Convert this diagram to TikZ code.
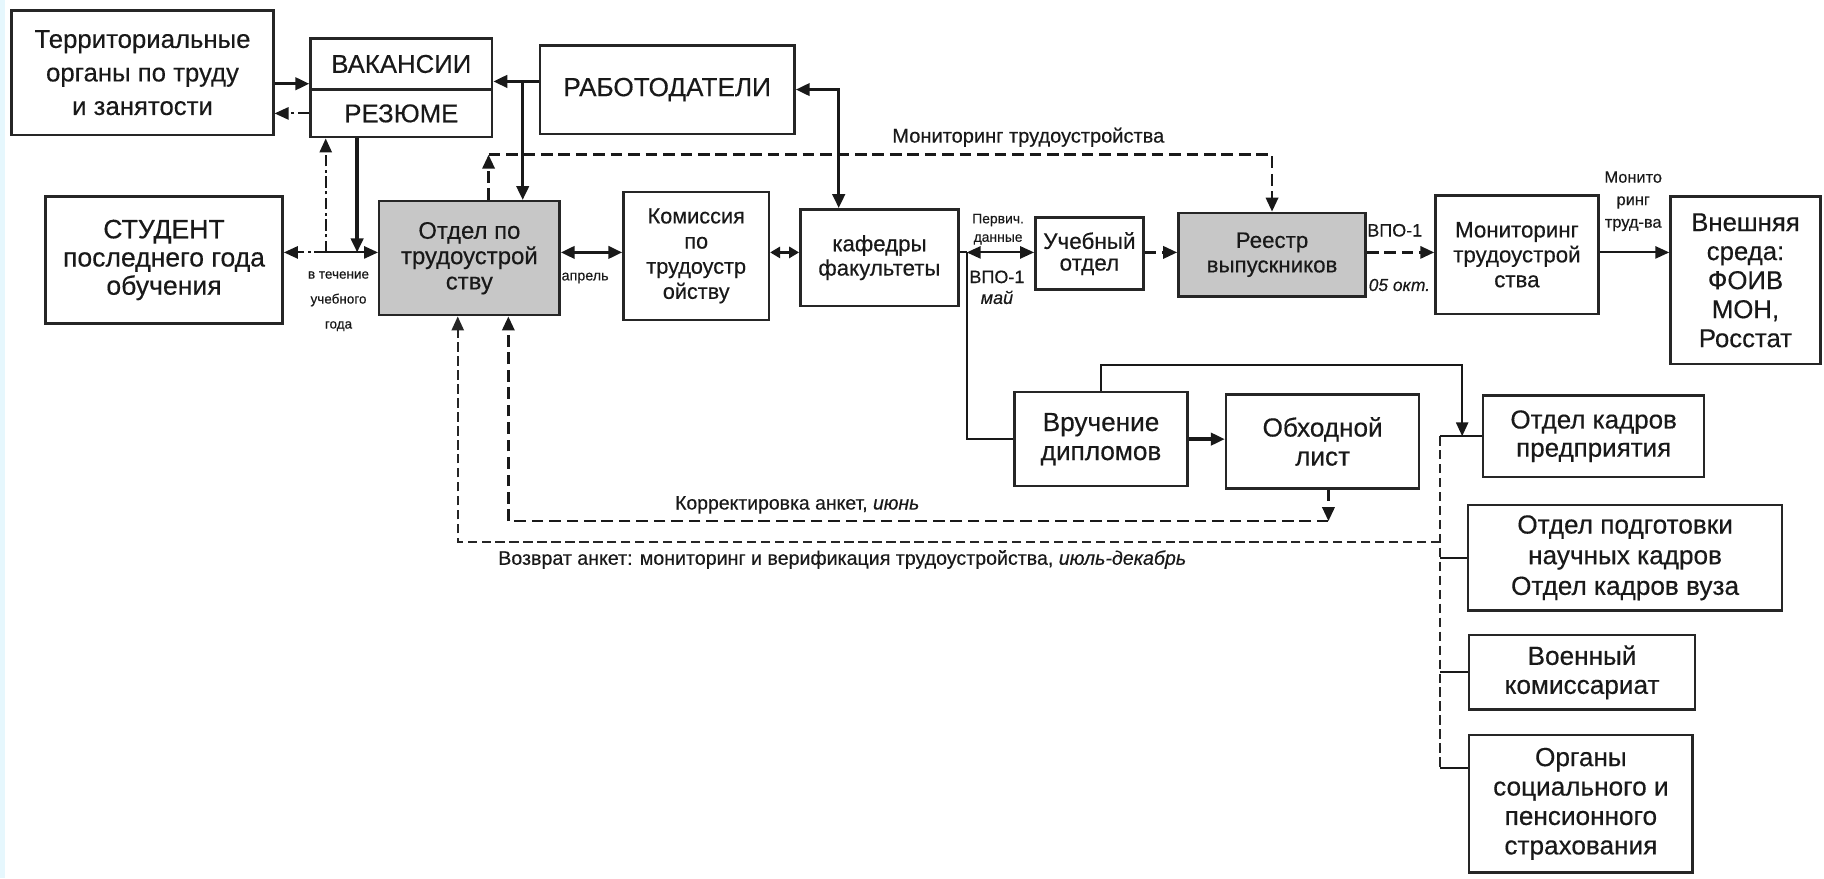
\documentclass[tikz,border=0pt]{standalone}
\usepackage{fontspec}
\setmainfont{Liberation Sans}
\usetikzlibrary{arrows.meta,calc}

\begin{document}
\begin{tikzpicture}[x=0.2mm,y=-0.2mm,
  box/.style={draw=black!85, line width=1.2pt, align=center, inner sep=0pt, text=black!90},
  grayfill/.style={fill=black!22},
  fs/.style 2 args={font=\fontsize{#1}{#2}\selectfont\addfontfeature{FakeBold=0.35}},
  lbl/.style={inner sep=0pt, align=center, text=black!90},
  conn/.style={line width=1.6pt, draw=black!90},
  med/.style={line width=1.0pt, draw=black!90},
  dsh/.style={line width=1.3pt, draw=black!90, dash pattern=on 2mm off 1mm},
  dshthin/.style={line width=0.9pt, draw=black!85, dash pattern=on 1.6mm off 0.8mm},
  ddot/.style={line width=1pt, draw=black!90, dash pattern=on 2mm off 0.6mm on 0.5mm off 0.6mm},
  ah/.style={-{Triangle[length=2.4mm,width=2.1mm]}},
  hh/.style={{Triangle[length=2.4mm,width=2.1mm]}-{Triangle[length=2.4mm,width=2.1mm]}},
  hhs/.style={{Triangle[length=1.7mm,width=1.9mm]}-{Triangle[length=1.7mm,width=1.9mm]}}
]
\useasboundingbox (0,0) rectangle (1568,755);
\fill[white] (0,0) rectangle (1568,755);
\fill[cyan!10] (0,0) rectangle (4,755);

% ---------- boxes ----------
\node[box, fs={12.6}{16.4}, minimum width=45mm, minimum height=21.4mm] (terr) at (122.5,62.5) {Территориальные\\органы по труду\\и занятости};
\node[box, fs={12.6}{15}, minimum width=31.2mm, minimum height=8.8mm] (vak) at (345,55) {ВАКАНСИИ};
\node[box, fs={12.6}{15}, minimum width=31.2mm, minimum height=8.2mm] (rez) at (345,97.5) {РЕЗЮМЕ};
\node[box, fs={12.8}{15}, minimum width=43.8mm, minimum height=15.2mm] (rab) at (573.5,77) {РАБОТОДАТЕЛИ};
\node[box, fs={13}{13.8}, minimum width=40.8mm, minimum height=21.8mm] (stud) at (141,223.5) {СТУДЕНТ\\последнего года\\обучения};
\node[box, grayfill, fs={11.7}{12.4}, minimum width=31mm, minimum height=19.6mm] (otd) at (403.5,222) {Отдел по\\трудоустрой\\ству};
\node[box, fs={10.6}{12.3}, minimum width=25mm, minimum height=22mm] (kom) at (598.5,220) {Комиссия\\по\\трудоустр\\ойству};
\node[box, fs={10.9}{11.9}, minimum width=27.2mm, minimum height=16.6mm] (kaf) at (756,221.5) {кафедры\\факультеты};
\node[box, fs={11}{10.6}, minimum width=18.6mm, minimum height=12.4mm] (ucheb) at (936.5,218) {Учебный\\отдел};
\node[box, grayfill, fs={10.9}{12}, minimum width=32.2mm, minimum height=14.4mm] (reestr) at (1093.5,219) {Реестр\\выпускников};
\node[box, fs={10.9}{12.2}, minimum width=28mm, minimum height=20.4mm] (mon) at (1304,219) {Мониторинг\\трудоустрой\\ства};
\node[box, fs={12.6}{14.2}, minimum width=25.8mm, minimum height=28.8mm] (vnesh) at (1500.5,241) {Внешняя\\среда:\\ФОИВ\\МОН,\\Росстат};
\node[box, fs={12.8}{14.2}, minimum width=29.8mm, minimum height=16.2mm] (vruch) at (946.5,377.5) {Вручение\\дипломов};
\node[box, fs={12.8}{14.2}, minimum width=33.2mm, minimum height=16.2mm] (obh) at (1137,379.5) {Обходной\\лист};
\node[box, fs={12.7}{13.8}, minimum width=38mm, minimum height=14mm] (okp) at (1370,375) {Отдел кадров\\предприятия};
\node[box, fs={12.8}{15}, minimum width=54mm, minimum height=18.2mm] (onk) at (1397,479.5) {Отдел подготовки\\научных кадров\\Отдел кадров вуза};
\node[box, fs={12.8}{14.2}, minimum width=38.8mm, minimum height=12.8mm] (vk) at (1360,578) {Военный\\комиссариат};
\node[box, fs={12.8}{14.4}, minimum width=38.4mm, minimum height=23.6mm] (org) at (1359,691) {Органы\\социального и\\пенсионного\\страхования};

% ---------- labels ----------
\node[lbl, fs={9.8}{11}] (tmon) at (884,118) {Мониторинг трудоустройства};
\node[lbl, fs={6.6}{12.2}] (tyear) at (291,259) {в течение\\учебного\\года};
\node[lbl, fs={7}{8}] (tapr) at (503,239) {апрель};
\node[lbl, fs={6.8}{9}] (tperv) at (858,197) {Первич.\\данные};
\node[lbl, fs={8.8}{10.2}] (tvpo) at (857,247) {ВПО-1\\\textit{май}};
\node[lbl, fs={8.8}{10}] (tvpob) at (1199,198) {ВПО-1};
\node[lbl, fs={8.5}{10}] (tokt) at (1203,245) {\textit{05 окт.}};
\node[lbl, fs={8}{11}] (tmt) at (1404,173) {Монито\\ринг\\труд-ва};
\node[lbl, fs={9.5}{11}, anchor=west] (tkor) at (580,434) {Корректировка анкет, \textit{июнь}};
\node[lbl, fs={9.6}{11}, anchor=west] (tvoz) at (428,481) {Возврат анкет: мониторинг и верификация трудоустройства, \textit{июль-декабрь}};

% ---------- top-left connectors ----------
\coordinate (a1) at ([yshift=-3.4mm]vak.west);
\draw[conn, ah] (a1 -| terr.east) -- (a1);
\draw[ddot, ah] (rez.west) -- (rez.west -| terr.east);
\coordinate (r1) at ([yshift=1.4mm]rab.west);
\draw[conn, ah] (r1) -- (r1 -| vak.east);
\coordinate (j1) at ($(r1 -| vak.east)!0.65!(r1)$);
\draw[conn, ah] (j1) -- (j1 |- otd.north);
\coordinate (k1) at ([xshift=-7mm]kaf.north);
\draw[conn, hh] (rab.east) -| (k1);

% ---------- monitoring (dashed) ----------
\coordinate (mline) at (0,133);
\coordinate (m0) at ([xshift=3.3mm]otd.north);
\draw[dsh, ah] (m0) -- (m0 |- mline);
\draw[dsh, ah] (m0 |- mline) -| (reestr.north);

% ---------- main row ----------
\coordinate (row) at (0,217);
\coordinate (jd) at (280,217);
\coordinate (js) at (307,217);
\draw[ddot, ah] (jd) -- (jd -| stud.east);
\draw[ddot, ah] (jd) -- (jd |- rez.south);
\draw[conn, ah] (js |- rez.south) -- (js);
\draw[med, ah] (jd) -- (jd -| otd.west);
\draw[conn, hh] (otd.east |- row) -- (kom.west |- row);
\draw[conn, hhs] (kom.east |- row) -- (kaf.west |- row);
\coordinate (jk0) at (kaf.east |- row);
\coordinate (jk) at ([xshift=1.2mm]jk0);
\draw[med] (jk0) -- (jk);
\draw[med, hh] (jk) -- (ucheb.west |- row);
\draw[med] (jk) |- (vruch.west);
\draw[dsh, ah] (ucheb.east |- row) -- (reestr.west |- row);
\draw[dsh, ah] (reestr.east |- row) -- (mon.west |- row);
\draw[med, ah] (mon.east |- row) -- (vnesh.west |- row);

% ---------- lower part ----------
\draw[conn, ah] (vruch.east) -- (vruch.east -| obh.west);
\coordinate (ktop) at (0,314);
\coordinate (jv) at ([xshift=-3.4mm]okp.west);
\draw[med, ah] (vruch.north) |- (ktop -| jv) -- (jv);

\coordinate (vr) at ([xshift=-7.2mm]okp.west);
\coordinate (orgb) at ([yshift=6.2mm]org.west);
\draw[dshthin] (vr) -- (vr |- orgb);
\draw[med] (vr) -- (okp.west);
\draw[med] (vr |- onk.west) -- (onk.west);
\draw[med] (vr |- vk.west) -- (vk.west);
\draw[med] (vr |- orgb) -- (orgb);

% ---------- return loops ----------
\coordinate (ret) at (0,466);
\coordinate (o1) at ([xshift=-2mm]otd.south);
\draw[dshthin, ah] (vr |- ret) -| (o1);
\coordinate (kor) at (0,448);
\coordinate (b1) at ([xshift=1mm]obh.south);
\coordinate (o2) at ([xshift=6.7mm]otd.south);
\draw[dsh, ah] (b1) -- (b1 |- kor);
\draw[dsh, ah] (b1 |- kor) -| (o2);
\end{tikzpicture}
\end{document}
